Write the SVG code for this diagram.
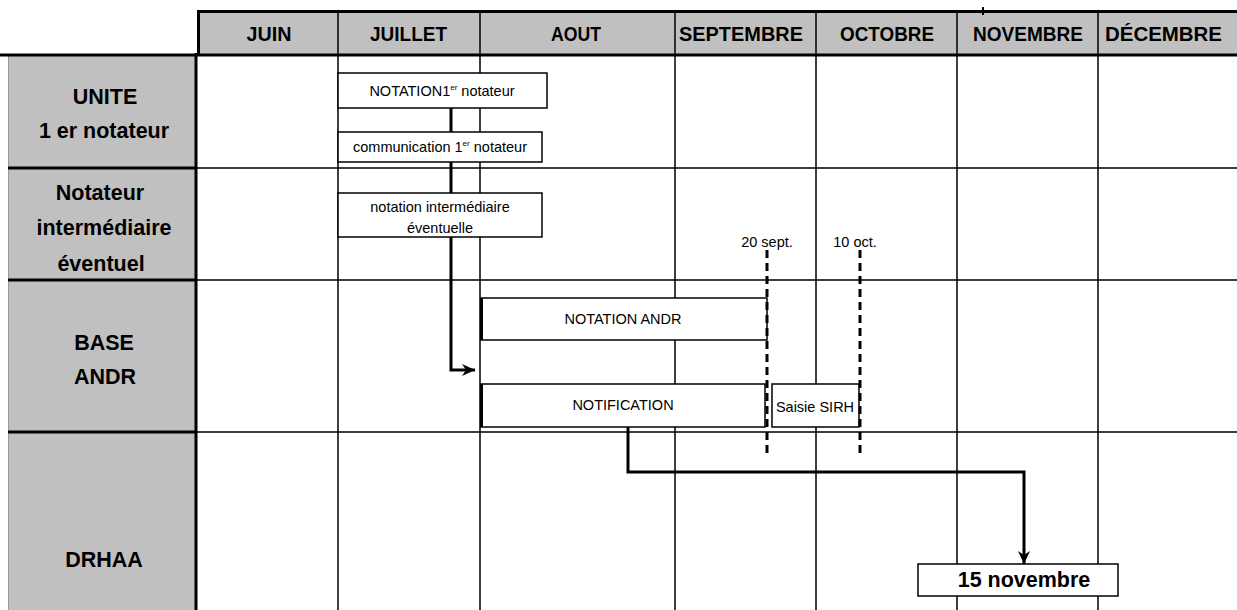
<svg xmlns="http://www.w3.org/2000/svg" width="1237" height="610" viewBox="0 0 1237 610">
<style>
.lbl{font-family:"Liberation Sans",Arial,sans-serif;font-weight:bold;font-size:21.5px;text-anchor:middle;fill:#000}
.hdr{font-family:"Liberation Sans",Arial,sans-serif;font-weight:bold;font-size:20px;text-anchor:middle;fill:#000}
.box{fill:#fff;stroke:#000;stroke-width:1.5}
.bt{font-family:"Liberation Sans",Arial,sans-serif;font-size:14.5px;text-anchor:middle;fill:#000}
.grid{stroke:#000;stroke-width:1.5;fill:none}
.thick{stroke:#000;stroke-width:3;fill:none}
.conn{fill:none;stroke:#000;stroke-width:3}
.dash{stroke:#000;stroke-width:3;stroke-dasharray:8 5;fill:none}
.gray{fill:#c0c0c0}
</style>
<defs>
<marker id="arr" markerUnits="userSpaceOnUse" markerWidth="14" markerHeight="14" refX="13" refY="7" orient="auto">
<path d="M0,1 L13,7 L0,13 L4,7 z" fill="#000"/>
</marker>
</defs>
<rect width="1237" height="610" fill="#fff"/>

<g id="header">
<rect class="gray" x="197" y="10" width="1040" height="44"/>
<path class="thick" d="M1237,11.5 H198.5 V55"/>
<path class="grid" d="M338,11 V55 M480,11 V55 M675,11 V55 M816,11 V55 M957,11 V55 M1098,11 V55"/>
<path d="M983,7 V15" stroke="#000" stroke-width="2" fill="none"/>
<text class="hdr" x="269" y="41" textLength="45" lengthAdjust="spacingAndGlyphs">JUIN</text>
<text class="hdr" x="408.5" y="41" textLength="77" lengthAdjust="spacingAndGlyphs">JUILLET</text>
<text class="hdr" x="576" y="41" textLength="50" lengthAdjust="spacingAndGlyphs">AOUT</text>
<text class="hdr" x="741" y="41" textLength="124" lengthAdjust="spacingAndGlyphs">SEPTEMBRE</text>
<text class="hdr" x="887" y="41" textLength="94" lengthAdjust="spacingAndGlyphs">OCTOBRE</text>
<text class="hdr" x="1028" y="41" textLength="110" lengthAdjust="spacingAndGlyphs">NOVEMBRE</text>
<text class="hdr" x="1163.5" y="41" textLength="117" lengthAdjust="spacingAndGlyphs">DÉCEMBRE</text>
</g>

<g id="grid">
<rect class="gray" x="8" y="55" width="188" height="555"/>
<path d="M8.5,55 V610" stroke="#999" stroke-width="1" fill="none"/>
<path class="grid" d="M338,55 V610 M480,55 V610 M675,55 V610 M816,55 V610 M957,55 V610 M1098,55 V610"/>
<path class="grid" d="M196,168 H1237 M196,280 H1237 M196,432 H1237"/>
<path class="thick" d="M0,55 H1237 M8,168 H197 M8,280 H197 M8,432 H197 M196,53 V610"/>
</g>

<g id="lane-unite">
<text class="lbl" x="105" y="104">UNITE</text>
<text class="lbl" x="104" y="138">1 er notateur</text>
</g>
<g id="lane-intermediaire">
<text class="lbl" x="100" y="200">Notateur</text>
<text class="lbl" x="104" y="235">intermédiaire</text>
<text class="lbl" x="101" y="271">éventuel</text>
</g>
<g id="lane-base">
<text class="lbl" x="104" y="350">BASE</text>
<text class="lbl" x="105" y="384">ANDR</text>
</g>
<g id="lane-drhaa">
<text class="lbl" x="104" y="567">DRHAA</text>
</g>

<g id="connectors">
<path class="conn" d="M451,108 V370 H475" marker-end="url(#arr)"/>
<path class="conn" d="M628,427 V472 H1024 V564" marker-end="url(#arr)"/>
</g>

<g id="notation1">
<rect class="box" x="338" y="73" width="209" height="35"/>
<text class="bt" x="442" y="96">NOTATION1<tspan font-size="8" dy="-6">er</tspan><tspan dy="6"> notateur</tspan></text>
</g>
<g id="communication">
<rect class="box" x="338" y="132" width="204" height="30"/>
<text class="bt" x="440" y="152" font-size="14">communication 1<tspan font-size="8" dy="-6">er</tspan><tspan dy="6"> notateur</tspan></text>
</g>
<g id="notation-intermediaire">
<rect class="box" x="338" y="193" width="204" height="44"/>
<text class="bt" x="440" y="212">notation intermédiaire</text>
<text class="bt" x="440" y="233">éventuelle</text>
</g>
<g id="notation-andr">
<rect class="box" x="481" y="298" width="286" height="42"/>
<path class="thick" d="M481.5,298 V340"/>
<text class="bt" x="623" y="324" font-size="15">NOTATION ANDR</text>
</g>
<g id="notification">
<rect class="box" x="481" y="384" width="284" height="43"/>
<path class="thick" d="M481.5,384 V427"/>
<text class="bt" x="623" y="410" font-size="15">NOTIFICATION</text>
</g>
<g id="saisie-sirh">
<rect class="box" x="772" y="384" width="87" height="43"/>
<text class="bt" x="815" y="412" font-size="14">Saisie SIRH</text>
</g>
<g id="date-20-sept">
<text class="bt" x="767" y="247">20 sept.</text>
<path class="dash" d="M767,250 V458"/>
</g>
<g id="date-10-oct">
<text class="bt" x="855" y="247">10 oct.</text>
<path class="dash" d="M860,250 V458"/>
</g>
<g id="quinze-novembre">
<rect class="box" x="918" y="564" width="200" height="32"/>
<text class="lbl" x="1024" y="587" font-size="19">15 novembre</text>
</g>
</svg>
